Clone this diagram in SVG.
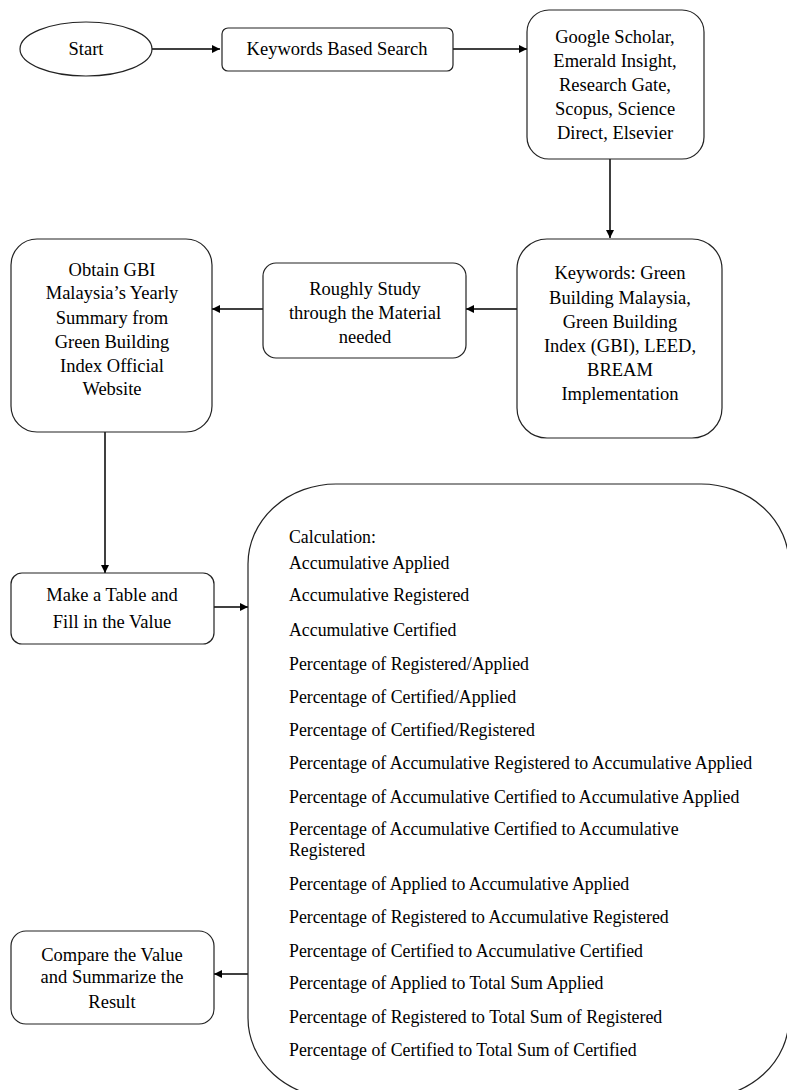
<svg xmlns="http://www.w3.org/2000/svg" width="787" height="1090" viewBox="0 0 787 1090">
<style>
.box{fill:#fff;stroke:#222;stroke-width:1.2}
.t{font-family:"Liberation Serif","Times New Roman",serif;font-size:18.5px;fill:#000}
.c{text-anchor:middle}
.l{font-family:"Liberation Serif","Times New Roman",serif;font-size:17.8px;fill:#000}
.e{fill:none;stroke:#000;stroke-width:1.5;marker-end:url(#ah)}
</style>
<defs>
<marker id="ah" viewBox="0 0 10 10" refX="10" refY="5" markerWidth="8" markerHeight="8" markerUnits="userSpaceOnUse" orient="auto">
<path d="M0,0 L10,5 L0,10 z" fill="#000"/>
</marker>
</defs>
<rect width="787" height="1090" fill="#fff"/>
<g id="connectors">
<path class="e" d="M152,49 H220"/>
<path class="e" d="M453,49 H527"/>
<path class="e" d="M610,159 V238"/>
<path class="e" d="M517,309 H466"/>
<path class="e" d="M263,309 H212"/>
<path class="e" d="M105,432 V573"/>
<path class="e" d="M214,607 H248"/>
<path class="e" d="M248,974 H214"/>
</g>
<g id="start">
<ellipse class="box" cx="86" cy="49" rx="66" ry="27"/>
<text class="t c" x="86" y="55">Start</text>
</g>
<g id="keywords-search">
<rect class="box" x="222" y="28" width="231" height="43" rx="6"/>
<text class="t c" x="337" y="55">Keywords Based Search</text>
</g>
<g id="databases">
<rect class="box" x="527" y="10" width="177" height="149" rx="22"/>
<text class="t c" x="615" y="43">Google Scholar,</text>
<text class="t c" x="615" y="67">Emerald Insight,</text>
<text class="t c" x="615" y="91">Research Gate,</text>
<text class="t c" x="615" y="115">Scopus, Science</text>
<text class="t c" x="615" y="139">Direct, Elsevier</text>
</g>
<g id="keywords">
<rect class="box" x="517" y="239" width="205" height="199" rx="30"/>
<text class="t c" x="620" y="279">Keywords: Green</text>
<text class="t c" x="620" y="304">Building Malaysia,</text>
<text class="t c" x="620" y="328">Green Building</text>
<text class="t c" x="620" y="352">Index (GBI), LEED,</text>
<text class="t c" x="620" y="376">BREAM</text>
<text class="t c" x="620" y="400">Implementation</text>
</g>
<g id="study">
<rect class="box" x="263" y="263" width="203" height="95" rx="13"/>
<text class="t c" x="365" y="295">Roughly Study</text>
<text class="t c" x="365" y="319">through the Material</text>
<text class="t c" x="365" y="343">needed</text>
</g>
<g id="obtain">
<rect class="box" x="11" y="239" width="201" height="193" rx="26"/>
<text class="t c" x="112" y="276">Obtain GBI</text>
<text class="t c" x="112" y="299">Malaysia’s Yearly</text>
<text class="t c" x="112" y="324">Summary from</text>
<text class="t c" x="112" y="348">Green Building</text>
<text class="t c" x="112" y="372">Index Official</text>
<text class="t c" x="112" y="395">Website</text>
</g>
<g id="table">
<rect class="box" x="11" y="573" width="203" height="71" rx="11"/>
<text class="t c" x="112" y="601">Make a Table and</text>
<text class="t c" x="112" y="628">Fill in the Value</text>
</g>
<g id="calculation">
<rect class="box" x="248" y="484" width="541" height="614" rx="88" ry="80"/>
<text class="l" x="289" y="543">Calculation:</text>
<text class="l" x="289" y="569">Accumulative Applied</text>
<text class="l" x="289" y="601">Accumulative Registered</text>
<text class="l" x="289" y="636">Accumulative Certified</text>
<text class="l" x="289" y="670">Percentage of Registered/Applied</text>
<text class="l" x="289" y="703">Percentage of Certified/Applied</text>
<text class="l" x="289" y="736">Percentage of Certified/Registered</text>
<text class="l" x="289" y="769">Percentage of Accumulative Registered to Accumulative Applied</text>
<text class="l" x="289" y="803">Percentage of Accumulative Certified to Accumulative Applied</text>
<text class="l" x="289" y="835">Percentage of Accumulative Certified to Accumulative</text>
<text class="l" x="289" y="856">Registered</text>
<text class="l" x="289" y="890">Percentage of Applied to Accumulative Applied</text>
<text class="l" x="289" y="923">Percentage of Registered to Accumulative Registered</text>
<text class="l" x="289" y="957">Percentage of Certified to Accumulative Certified</text>
<text class="l" x="289" y="989">Percentage of Applied to Total Sum Applied</text>
<text class="l" x="289" y="1023">Percentage of Registered to Total Sum of Registered</text>
<text class="l" x="289" y="1056">Percentage of Certified to Total Sum of Certified</text>
</g>
<g id="compare">
<rect class="box" x="11" y="931" width="203" height="93" rx="15"/>
<text class="t c" x="112" y="961">Compare the Value</text>
<text class="t c" x="112" y="983">and Summarize the</text>
<text class="t c" x="112" y="1008">Result</text>
</g>
</svg>
